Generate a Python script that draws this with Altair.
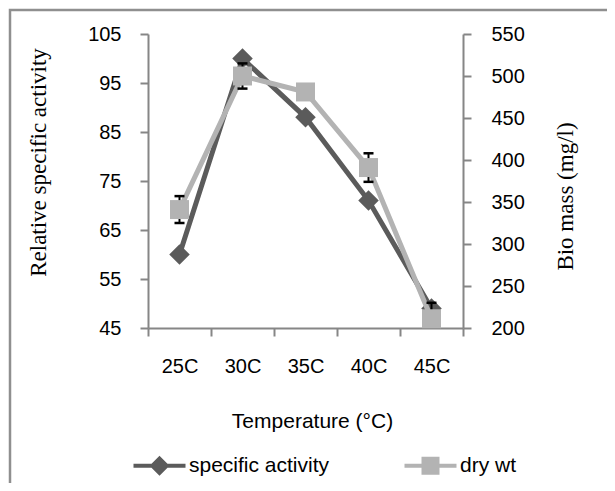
import altair as alt
import pandas as pd

temps = ["25C", "30C", "35C", "40C", "45C"]
activity = [60, 100, 88, 71, 49]
dry_wt = [341, 500, 481, 391, 211]
dry_err = [16, 15, 4, 17, 19]

series = ["specific activity", "dry wt"]
colors = ["#5b5b5b", "#b3b3b3"]
legend_paths = [
    "M-2.6,-0.2L2.6,-0.2L2.6,0.2L-2.6,0.2Z M0,-1L1,0L0,1L-1,0Z",
    "M-2.6,-0.2L2.6,-0.2L2.6,0.2L-2.6,0.2Z M-0.9,-0.9L0.9,-0.9L0.9,0.9L-0.9,0.9Z",
]

df = pd.DataFrame({
    "temp": temps,
    "activity": activity,
    "drywt": dry_wt,
    "low": [v - e for v, e in zip(dry_wt, dry_err)],
    "high": [v + e for v, e in zip(dry_wt, dry_err)],
    "s1": series[0],
})

SANS = "Liberation Sans, Arial, sans-serif"
SERIF = "Liberation Serif, Times New Roman, serif"
AX = "#868686"

x_enc = alt.X(
    "temp:N", sort=temps,
    scale=alt.Scale(paddingInner=0, paddingOuter=0),
    axis=alt.Axis(
        title="Temperature (°C)", tickBand="extent", labelAngle=0,
        labelPadding=20, titleFont=SANS, titleFontSize=21, titleFontWeight="normal",
        titleX=164, titleY=93, titleBaseline="middle", titleAlign="center",
    ),
)

y_left = alt.Y(
    "activity:Q",
    scale=alt.Scale(domain=[45, 105], nice=False, zero=False),
    axis=alt.Axis(
        title="Relative specific activity", values=[45, 55, 65, 75, 85, 95, 105],
        orient="left", labelPadding=19, titleFont=SERIF, titleFontSize=23,
        titleFontWeight="normal", titleAngle=270, titleX=-110, titleY=128,
        titleBaseline="middle", titleAlign="center",
    ),
)

y_right = alt.Y(
    "drywt:Q",
    scale=alt.Scale(domain=[200, 550], nice=False, zero=False),
    axis=alt.Axis(
        title="Bio mass (mg/l)", values=[200, 250, 300, 350, 400, 450, 500, 550],
        orient="right", labelPadding=20, titleFont=SERIF, titleFontSize=23,
        titleFontWeight="normal", titleAngle=270, titleX=102, titleY=162,
        titleBaseline="middle", titleAlign="center",
    ),
)

base = alt.Chart(df)

border = alt.Chart(alt.Data(values=[{}])).mark_rect(
    fill=None, stroke="#8f8f8f", strokeWidth=2.5
).encode(
    x=alt.value(-138), x2=alt.value(480), y=alt.value(-24), y2=alt.value(520)
)

act_line = base.mark_line(color=colors[0], strokeWidth=5).encode(x=x_enc, y=y_left)
act_pts = base.mark_point(
    shape="diamond", filled=True, size=420, color=colors[0], opacity=1
).encode(x=x_enc, y=alt.Y("activity:Q"))

legend_layer = base.transform_filter("false").mark_point(filled=True, opacity=1).encode(
    x=x_enc,
    y=alt.Y("activity:Q"),
    color=alt.Color(
        "s1:N",
        scale=alt.Scale(domain=series, range=colors),
        legend=alt.Legend(
            title=None, orient="none", direction="horizontal",
            legendX=1, legendY=421, symbolSize=400, symbolStrokeWidth=0,
            labelFont=SANS, labelFontSize=21, labelColor="black",
            labelOffset=19, columnPadding=74, padding=0,
        ),
    ),
    shape=alt.Shape("s1:N", scale=alt.Scale(domain=series, range=legend_paths)),
)

layer_a = alt.layer(border, act_line, act_pts, legend_layer)

dw_line = base.mark_line(color=colors[1], strokeWidth=5).encode(x=x_enc, y=y_right)
err_rule = base.mark_rule(color="black", strokeWidth=2, clip=True).encode(
    x=x_enc, y=alt.Y("low:Q"), y2="high:Q"
)
err_lo = base.mark_tick(color="black", thickness=2.5, size=10, clip=True, opacity=1).encode(
    x=x_enc, y=alt.Y("low:Q")
)
err_hi = base.mark_tick(color="black", thickness=2.5, size=10, clip=True, opacity=1).encode(
    x=x_enc, y=alt.Y("high:Q")
)
dw_pts = base.mark_point(
    shape="square", filled=True, size=360, color=colors[1], opacity=1
).encode(x=x_enc, y=alt.Y("drywt:Q"))

layer_b = alt.layer(dw_line, err_rule, err_lo, err_hi, dw_pts)

chart = alt.layer(layer_a, layer_b).resolve_scale(y="independent").properties(
    width=315, height=294,
    autosize=alt.AutoSizeParams(type="none"),
    padding={"left": 140, "top": 26, "right": 144, "bottom": 155},
    background="white",
).configure_view(stroke=None).configure_axis(
    domainColor=AX, domainWidth=2, tickColor=AX, tickWidth=2, tickSize=8,
    grid=False, labelFont=SANS, labelFontSize=20, labelColor="black",
    titleColor="black",
)

chart.save("out.html", embed_options={"renderer": "svg", "actions": False})
